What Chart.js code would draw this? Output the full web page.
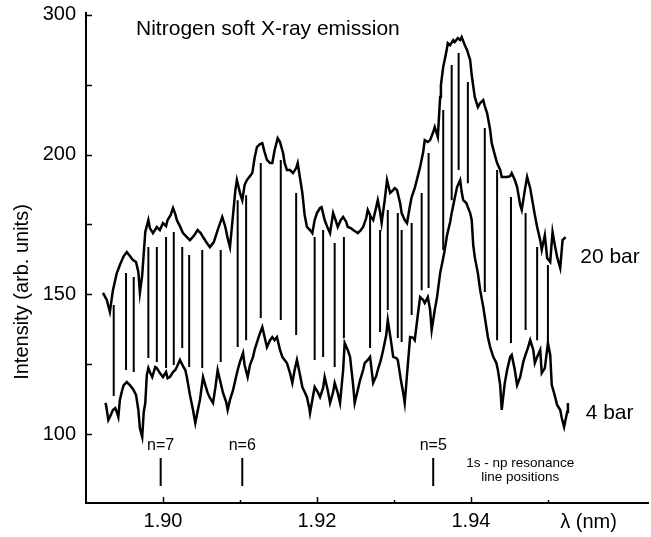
<!DOCTYPE html>
<html>
<head>
<meta charset="utf-8">
<script src="https://cdn.jsdelivr.net/npm/chart.js@4.4.1/dist/chart.umd.min.js"></script>
<style>
  html, body { margin: 0; padding: 0; background: #fff; }
  #wrap { position: relative; width: 651px; height: 537px; }
</style>
</head>
<body>
<div id="wrap"><canvas id="chart"></canvas></div>
<script>
// 20 bar spectrum (wavelength in nm, intensity in arb. units)
const wl20 = [
  1.8922,1.8927,1.8931,1.8935,1.8940,1.8944,1.8949,1.8953,1.8957,1.8961,1.8965,1.8968,1.8970,1.8973,1.8977,1.8981,1.8983,1.8987,1.8992,1.8996,
  1.9000,1.9004,1.9006,1.9010,1.9013,1.9016,1.9018,1.9022,1.9026,1.9031,1.9035,1.9040,1.9045,1.9049,1.9052,1.9057,1.9061,1.9066,1.9071,1.9077,
  1.9081,1.9084,1.9087,1.9091,1.9094,1.9096,1.9100,1.9103,1.9106,1.9109,1.9113,1.9116,1.9119,1.9122,1.9126,1.9129,1.9132,1.9135,1.9139,1.9142,
  1.9145,1.9149,1.9152,1.9156,1.9158,1.9161,1.9165,1.9169,1.9173,1.9175,1.9178,1.9181,1.9184,1.9187,1.9191,1.9194,1.9197,1.9200,1.9204,1.9206,
  1.9210,1.9214,1.9217,1.9221,1.9225,1.9227,1.9231,1.9234,1.9238,1.9240,1.9244,1.9247,1.9251,1.9253,1.9257,1.9260,1.9264,1.9266,1.9270,1.9273,
  1.9277,1.9279,1.9282,1.9284,1.9288,1.9291,1.9295,1.9299,1.9301,1.9304,1.9308,1.9310,1.9314,1.9317,1.9321,1.9323,1.9327,1.9331,1.9334,1.9338,
  1.9340,1.9344,1.9347,1.9351,1.9353,1.9357,1.9360,1.9361,1.9364,1.9368,1.9370,1.9373,1.9377,1.9379,1.9383,1.9386,1.9388,1.9392,1.9395,1.9399,
  1.9401,1.9405,1.9409,1.9412,1.9416,1.9418,1.9421,1.9425,1.9427,1.9431,1.9434,1.9438,1.9440,1.9444,1.9447,1.9451,1.9453,1.9457,1.9460,1.9464,
  1.9466,1.9470,1.9473,1.9477,1.9479,1.9483,1.9486,1.9490,1.9492,1.9496,1.9499,1.9503,1.9506,1.9509,1.9512,1.9516,1.9519,1.9523
];
const int20 = [
  150.5,148.0,143.7,151.5,157.6,160.5,163.7,165.1,163.7,162.3,161.6,158.0,150.5,156.9,172.3,176.6,173.7,171.9,174.1,173.0,
  175.5,174.4,176.6,178.4,180.9,178.7,176.6,174.4,171.9,170.5,169.4,170.9,173.0,171.9,170.5,168.4,166.9,168.7,173.0,177.7,
  174.1,170.1,166.9,178.4,187.3,190.9,186.3,183.7,189.1,190.9,192.3,193.4,198.8,202.7,203.8,204.1,200.9,198.1,197.0,197.0,
  201.6,205.9,204.5,200.6,197.0,194.5,194.5,193.4,195.2,197.0,191.6,186.3,178.4,174.1,173.0,171.9,176.6,179.1,180.9,181.2,
  176.6,173.7,171.9,179.1,175.9,174.1,176.6,177.7,175.9,174.1,173.7,173.0,172.3,171.9,173.0,174.1,177.3,180.2,177.7,176.6,
  181.2,183.7,179.5,175.5,183.7,190.9,186.3,187.3,188.0,187.3,182.7,179.1,176.6,175.5,182.0,184.8,188.0,192.3,195.6,200.9,
  205.2,204.5,205.2,208.1,209.9,206.3,220.6,224.9,231.4,236.7,239.9,239.2,241.0,240.3,241.7,241.0,242.1,239.2,237.4,233.9,
  228.5,220.6,217.0,218.5,219.5,217.4,214.9,208.8,204.1,199.9,197.0,194.5,192.0,192.0,192.0,192.3,193.4,190.9,188.4,182.0,
  180.2,187.3,192.0,188.0,184.8,178.4,174.1,169.4,165.9,171.2,163.0,161.6,172.3,167.6,163.3,159.4,169.4,170.5
];

// 4 bar spectrum
const wl4 = [
  1.8925,1.8926,1.8929,1.8931,1.8935,1.8938,1.8940,1.8942,1.8944,1.8947,1.8949,1.8953,1.8957,1.8961,1.8965,1.8968,1.8970,1.8973,1.8975,1.8977,
  1.8979,1.8981,1.8983,1.8986,1.8990,1.8992,1.8996,1.9000,1.9004,1.9006,1.9009,1.9013,1.9016,1.9018,1.9022,1.9026,1.9029,1.9031,1.9035,1.9039,
  1.9042,1.9044,1.9048,1.9052,1.9055,1.9058,1.9061,1.9065,1.9068,1.9071,1.9074,1.9078,1.9082,1.9084,1.9087,1.9091,1.9094,1.9097,1.9100,1.9104,
  1.9106,1.9110,1.9113,1.9117,1.9119,1.9123,1.9126,1.9129,1.9132,1.9135,1.9139,1.9142,1.9145,1.9148,1.9152,1.9155,1.9158,1.9161,1.9165,1.9168,
  1.9171,1.9174,1.9178,1.9181,1.9184,1.9187,1.9190,1.9191,1.9194,1.9197,1.9201,1.9204,1.9208,1.9210,1.9214,1.9217,1.9221,1.9223,1.9227,1.9230,
  1.9234,1.9236,1.9240,1.9243,1.9247,1.9249,1.9253,1.9256,1.9260,1.9262,1.9266,1.9269,1.9273,1.9277,1.9279,1.9283,1.9286,1.9290,1.9292,1.9296,
  1.9299,1.9303,1.9305,1.9309,1.9312,1.9314,1.9318,1.9321,1.9325,1.9327,1.9331,1.9334,1.9338,1.9340,1.9344,1.9347,1.9349,1.9353,1.9356,1.9360,
  1.9364,1.9366,1.9369,1.9373,1.9375,1.9379,1.9382,1.9386,1.9388,1.9390,1.9394,1.9396,1.9399,1.9401,1.9403,1.9405,1.9409,1.9412,1.9416,1.9418,
  1.9422,1.9425,1.9429,1.9433,1.9435,1.9438,1.9440,1.9444,1.9447,1.9451,1.9453,1.9457,1.9460,1.9464,1.9468,1.9470,1.9474,1.9477,1.9481,1.9483,
  1.9486,1.9490,1.9492,1.9496,1.9500,1.9503,1.9505,1.9508,1.9512,1.9516,1.9518,1.9521,1.9525,1.9526
];
const int4 = [
  111.1,110.4,105.0,106.1,108.6,109.3,107.9,106.1,112.2,115.7,117.5,118.6,117.5,116.1,114.0,108.6,102.1,98.9,107.9,111.1,
  121.1,123.6,122.2,120.4,124.0,123.6,121.8,120.4,122.2,120.0,120.4,122.2,122.9,124.0,126.5,124.3,122.9,120.4,114.0,108.6,
  103.9,106.8,112.2,120.4,117.5,114.7,112.9,111.1,116.5,122.9,119.3,114.7,111.5,108.6,112.2,115.7,119.3,122.9,125.8,129.0,
  124.7,120.4,124.7,127.6,130.1,133.6,136.1,138.3,134.7,131.1,133.6,134.7,133.6,134.7,130.1,127.6,126.5,125.4,121.8,118.3,
  122.9,126.5,121.1,116.8,115.0,113.2,109.3,107.5,112.2,116.8,115.0,113.2,116.5,120.4,115.7,111.1,115.0,118.3,114.7,111.1,
  122.9,132.6,130.1,127.6,117.5,111.1,115.7,119.3,122.9,125.4,126.5,127.6,118.3,120.8,122.9,126.5,130.1,135.4,140.8,133.6,
  127.6,127.2,126.5,119.3,114.7,111.1,124.7,134.7,134.4,133.6,142.6,149.0,148.0,146.9,149.0,144.4,137.2,144.4,149.0,157.6,
  163.0,165.9,171.2,175.9,179.1,184.5,188.4,190.9,186.6,183.7,182.7,181.2,179.1,176.6,167.6,163.3,157.6,151.5,145.5,141.9,
  134.7,131.1,127.6,125.4,122.9,117.5,108.6,118.3,122.9,127.6,128.3,122.9,117.5,120.4,125.8,127.6,130.8,133.6,130.1,125.4,
  127.6,130.1,121.8,123.6,132.6,128.3,117.5,114.7,110.4,108.6,105.7,102.5,107.9,111.1
];

// vertical difference markers between the two spectra
const barWl = [
  1.8936,1.8952,1.8962,1.8981,1.8992,1.9004,1.9014,1.9025,1.9034,1.9051,1.9075,1.9097,1.9108,
  1.9127,1.9153,1.9173,1.9197,1.9208,1.9223,1.9235,1.9269,1.9282,1.9292,1.9305,1.9310,1.9323,
  1.9336,1.9345,1.9364,1.9375,1.9384,1.9396,1.9418,1.9434,1.9452,1.9471,1.9486,1.9500
];
const barTop = [
  146.2,157.6,156.2,166.9,166.9,170.5,172.3,166.9,164.1,165.9,165.9,183.7,185.5,
  197.0,198.1,186.3,170.5,173.0,168.4,170.5,178.4,173.0,180.2,179.1,173.0,175.5,
  186.3,200.6,216.0,232.1,236.4,226.0,209.5,194.5,184.8,179.1,166.9,160.5
];
const barBottom = [
  113.6,122.9,122.2,127.2,125.8,123.6,124.7,130.8,124.0,123.6,125.8,131.1,133.6,
  141.5,140.8,135.4,126.5,127.6,124.0,134.4,130.8,136.5,144.4,134.4,132.9,142.6,
  151.5,152.3,165.9,183.7,194.5,189.8,150.8,133.6,132.6,137.2,133.6,132.9
];

// 1s - np resonance line positions
const resLabels = ['n=7', 'n=6', 'n=5'];
const resWl = [1.8997, 1.9103, 1.9351];
const resTop = [91.4, 91.4, 91.4];
const resBottom = [81.4, 81.4, 81.4];

// axis ticks (the original figure labels its top tick "300")
const xTickValues = [1.90, 1.91, 1.92, 1.93, 1.94, 1.95];
const xTickLabels = ['1.90', '', '1.92', '', '1.94', ''];
const yTickValues = [100, 125, 150, 175, 200, 225, 250];
const yTickLabels = ['100', '', '150', '', '200', '', '300'];

const FONT = '"Liberation Sans", Arial, Helvetica, sans-serif';

const notes = [
  { text: 'Nitrogen soft X-ray emission', x: 1.8965, y: 245.0, size: 21, align: 'left' },
  { text: '20 bar', x: 1.9542, y: 163.3, size: 21, align: 'left' },
  { text: '4 bar', x: 1.9549, y: 107.5, size: 21, align: 'left' },
  { text: '1s - np resonance', x: 1.9464, y: 89.6, size: 13.5, align: 'center' },
  { text: 'line positions', x: 1.9464, y: 84.6, size: 13.5, align: 'center' }
];

const toPoints = (xs, ys) => xs.map((x, i) => ({ x, y: ys[i] }));

// vertical segments, separated by null gaps
const toSegments = (xs, tops, bottoms) => {
  const out = [];
  xs.forEach((x, i) => {
    out.push({ x, y: tops[i] }, { x, y: bottoms[i] }, { x, y: null });
  });
  return out;
};

const annotate = {
  id: 'annotate',
  afterDraw(chart) {
    const { ctx, chartArea, scales: { x, y } } = chart;
    ctx.save();
    ctx.strokeStyle = '#000';
    ctx.fillStyle = '#000';

    // tick marks point into the plot
    ctx.lineWidth = 1.5;
    yTickValues.forEach((v) => {
      const py = Math.round(y.getPixelForValue(v)) + 0.5;
      ctx.beginPath();
      ctx.moveTo(chartArea.left, py);
      ctx.lineTo(chartArea.left + 6, py);
      ctx.stroke();
    });
    xTickValues.forEach((v, i) => {
      const px = Math.round(x.getPixelForValue(v)) + 0.5;
      const len = xTickLabels[i] ? 6 : 3;
      ctx.beginPath();
      ctx.moveTo(px, chartArea.bottom);
      ctx.lineTo(px, chartArea.bottom - len);
      ctx.stroke();
    });

    ctx.textBaseline = 'middle';
    notes.forEach((n) => {
      ctx.font = n.size + 'px ' + FONT;
      ctx.textAlign = n.align;
      ctx.fillText(n.text, x.getPixelForValue(n.x), y.getPixelForValue(n.y));
    });

    ctx.font = '16px ' + FONT;
    ctx.textAlign = 'center';
    resWl.forEach((w, i) => {
      ctx.fillText(resLabels[i], x.getPixelForValue(w), y.getPixelForValue(resTop[i]) - 12);
    });

    // x axis unit, set in the tick label row
    ctx.font = '20px ' + FONT;
    ctx.textAlign = 'left';
    ctx.fillText('\u03bb (nm)', x.getPixelForValue(1.9516), chartArea.bottom + 19);

    // y axis title
    ctx.translate(22, 292);
    ctx.rotate(-Math.PI / 2);
    ctx.textAlign = 'center';
    ctx.fillText('Intensity (arb. units)', 0, 0);
    ctx.restore();
  }
};

new Chart(document.getElementById('chart'), {
  type: 'line',
  data: {
    datasets: [
      { label: '20 bar', data: toPoints(wl20, int20), borderColor: '#000', borderWidth: 2.5 },
      { label: '4 bar', data: toPoints(wl4, int4), borderColor: '#000', borderWidth: 2.5 },
      { label: 'difference', data: toSegments(barWl, barTop, barBottom), borderColor: '#000', borderWidth: 2, spanGaps: false },
      { label: 'resonances', data: toSegments(resWl, resTop, resBottom), borderColor: '#000', borderWidth: 2, spanGaps: false, clip: false }
    ]
  },
  options: {
    responsive: true,
    maintainAspectRatio: false,
    animation: false,
    events: [],
    layout: { padding: { top: 13, right: 3, bottom: 0, left: 0 } },
    elements: { point: { radius: 0 }, line: { tension: 0 } },
    plugins: { legend: { display: false }, tooltip: { enabled: false } },
    scales: {
      x: {
        type: 'linear',
        min: 1.89,
        max: 1.963,
        grid: { display: false, drawTicks: false },
        border: { display: true, color: '#000', width: 2 },
        afterBuildTicks: (scale) => { scale.ticks = xTickValues.map((v) => ({ value: v })); },
        afterFit: (scale) => { scale.height = 34; scale.paddingLeft = 0; scale.paddingRight = 0; },
        ticks: {
          autoSkip: false,
          maxRotation: 0,
          padding: 6,
          color: '#000',
          font: { family: FONT, size: 20 },
          callback: (value, index) => xTickLabels[index]
        }
      },
      y: {
        min: 75.3,
        max: 250.7,
        grid: { display: false, drawTicks: false },
        border: { display: true, color: '#000', width: 2 },
        afterBuildTicks: (scale) => { scale.ticks = yTickValues.map((v) => ({ value: v })); },
        afterFit: (scale) => { scale.width = 86; scale.paddingTop = 0; scale.paddingBottom = 0; },
        ticks: {
          autoSkip: false,
          padding: 10,
          color: '#000',
          font: { family: FONT, size: 20 },
          callback: (value, index) => yTickLabels[index]
        }
      }
    }
  },
  plugins: [annotate]
});
</script>
</body>
</html>
